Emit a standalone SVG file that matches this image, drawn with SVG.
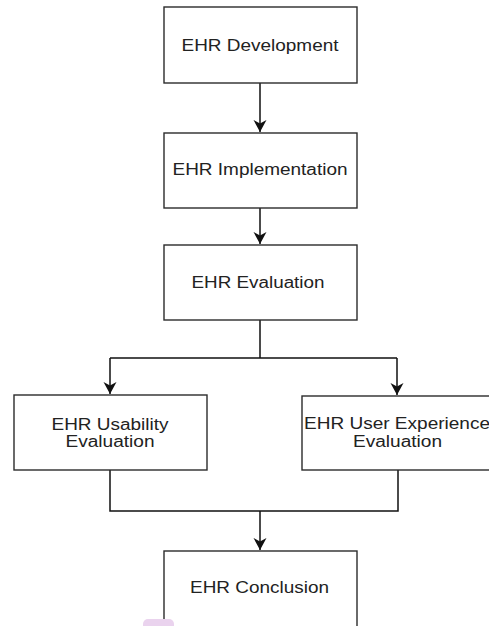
<svg xmlns="http://www.w3.org/2000/svg" width="489" height="626" viewBox="0 0 489 626">
<style>
.box{fill:#fff;stroke:#2b2b2b;stroke-width:1.4}
.t{font-family:"Liberation Sans",Arial,sans-serif;font-size:16px;fill:#222;text-anchor:middle}
.c{fill:none;stroke:#111;stroke-width:1.5}
</style>
<defs>
<marker id="ah" markerWidth="14" markerHeight="14" refX="12" refY="6.5" orient="auto" markerUnits="userSpaceOnUse">
<path d="M0,0 L12,6.5 L0,13 L3.5,6.5 Z" fill="#111"/>
</marker>
</defs>
<rect width="489" height="626" fill="#fff"/>
<g id="connectors">
<path class="c" d="M260,83 V132" marker-end="url(#ah)"/>
<path class="c" d="M260,208 V244" marker-end="url(#ah)"/>
<path class="c" d="M260,320 V358 M110,358 H397"/>
<path class="c" d="M110,358 V394" marker-end="url(#ah)"/>
<path class="c" d="M397,358 V395" marker-end="url(#ah)"/>
<path class="c" d="M110,470 V511 H398 V470"/>
<path class="c" d="M260,511 V550" marker-end="url(#ah)"/>
</g>
<g id="n1">
<rect class="box" x="164" y="7" width="193" height="76"/>
<text class="t" x="260" y="51" textLength="157" lengthAdjust="spacingAndGlyphs">EHR Development</text>
</g>
<g id="n2">
<rect class="box" x="164" y="133" width="193" height="75"/>
<text class="t" x="260" y="175" textLength="175" lengthAdjust="spacingAndGlyphs">EHR Implementation</text>
</g>
<g id="n3">
<rect class="box" x="164" y="245" width="193" height="75"/>
<text class="t" x="258" y="288" textLength="133" lengthAdjust="spacingAndGlyphs">EHR Evaluation</text>
</g>
<g id="n4">
<rect class="box" x="14" y="395" width="193" height="75"/>
<text class="t" x="110" y="430" textLength="117" lengthAdjust="spacingAndGlyphs">EHR Usability</text>
<text class="t" x="110" y="447" textLength="89" lengthAdjust="spacingAndGlyphs">Evaluation</text>
</g>
<g id="n5">
<rect class="box" x="302" y="396" width="192" height="74"/>
<text class="t" x="397" y="429" textLength="186" lengthAdjust="spacingAndGlyphs">EHR User Experience</text>
<text class="t" x="397.5" y="447" textLength="89" lengthAdjust="spacingAndGlyphs">Evaluation</text>
</g>
<g id="n6">
<rect class="box" x="164" y="551" width="193" height="90"/>
<text class="t" x="259.5" y="593" textLength="139" lengthAdjust="spacingAndGlyphs">EHR Conclusion</text>
</g>
<rect x="143" y="619" width="31" height="14" rx="5" fill="#ead3ee"/>
</svg>
